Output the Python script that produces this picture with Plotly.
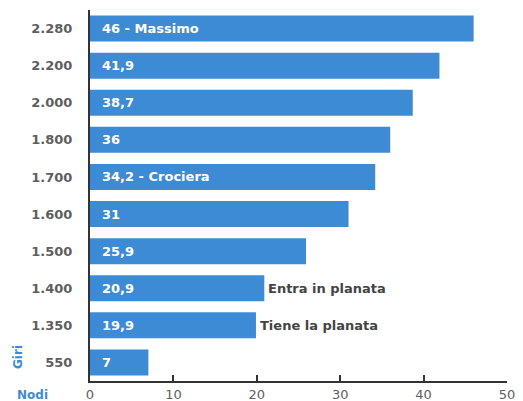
import plotly.graph_objects as go

giri = ["2.280", "2.200", "2.000", "1.800", "1.700", "1.600", "1.500", "1.400", "1.350", "550"]
nodi = [46, 41.9, 38.7, 36, 34.2, 31, 25.9, 20.9, 19.9, 7]
bar_labels = ["46 - Massimo", "41,9", "38,7", "36", "34,2 - Crociera", "31", "25,9", "20,9", "19,9", "7"]
side_notes = {"1.400": "Entra in planata", "1.350": "Tiene la planata"}
x_ticks = [0, 10, 20, 30, 40, 50]

BLUE = "#3d8bd4"
GRAY = "#5e5e5e"
FONT = "DejaVu Sans"

# page has an 8px body margin; size the figure so it fits the 523x401 window
OFF = 8
W, H = 523 - OFF, 401 - OFF
L, R, T, B = 90 - OFF, 16, 10 - OFF, 20
pw, ph = W - L - R, H - T - B

fig = go.Figure(go.Bar(
    x=nodi, y=list(range(len(giri))), orientation="h",
    marker=dict(color=BLUE, line=dict(width=0)),
    hoverinfo="x",
))

annotations = []
for i, txt in enumerate(bar_labels):
    annotations.append(dict(x=0, y=i, xref="x", yref="y", text=txt, showarrow=False,
                            xanchor="left", xshift=10,
                            font=dict(family=FONT, size=13, color="white", weight="bold")))
for g, txt in side_notes.items():
    i = giri.index(g)
    annotations.append(dict(x=nodi[i], y=i, xref="x", yref="y", text=txt, showarrow=False,
                            xanchor="left", xshift=2,
                            font=dict(family=FONT, size=13, color="#444", weight="bold")))


def px_to_paper(px, py):
    # px, py are page pixels
    return (px - OFF - L) / pw, (H - B - (py - OFF)) / ph


gx, gy = px_to_paper(18, 357)
annotations.append(dict(x=gx, y=gy, xref="paper", yref="paper", text="Giri", showarrow=False,
                        xanchor="center", yanchor="middle", textangle=-90,
                        font=dict(family=FONT, size=12, color=BLUE, weight="bold")))
nx, ny = px_to_paper(33, 395)
annotations.append(dict(x=nx, y=ny, xref="paper", yref="paper", text="Nodi", showarrow=False,
                        xanchor="center", yanchor="middle",
                        font=dict(family=FONT, size=12, color=BLUE, weight="bold")))

fig.update_layout(
    width=W, height=H,
    margin=dict(l=L, r=R, t=T, b=B),
    paper_bgcolor="white", plot_bgcolor="white",
    showlegend=False, bargap=0.3,
    annotations=annotations,
    xaxis=dict(range=[0, 50], tickvals=x_ticks, ticks="inside", ticklen=6, tickwidth=2,
               tickcolor="#333", showline=True, linecolor="#333", linewidth=2,
               showgrid=False, zeroline=False, automargin=False,
               tickfont=dict(family=FONT, size=13, color=GRAY)),
    yaxis=dict(range=[len(giri) - 0.5, -0.5], tickvals=list(range(len(giri))), ticktext=giri,
               showline=True, linecolor="#333", linewidth=2, showgrid=False, ticks="",
               zeroline=False, automargin=False, ticklabelstandoff=13,
               tickfont=dict(family=FONT, size=13, color=GRAY, weight="bold")),
)

fig.write_html("out.html")
